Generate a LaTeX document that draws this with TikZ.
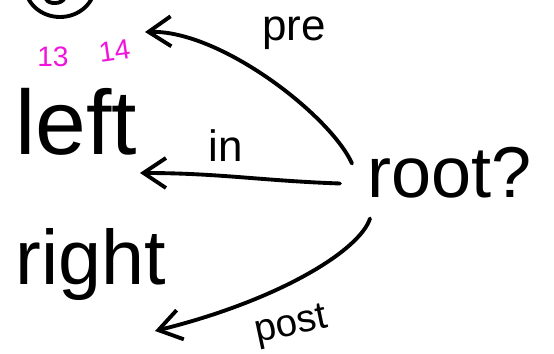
\documentclass[tikz,border=0pt]{standalone}
\usepackage{fontspec}
\setmainfont{Liberation Sans}
\definecolor{inkBlack}{RGB}{0, 0, 0}
\definecolor{inkMagenta}{RGB}{240, 20, 220}
\usetikzlibrary{arrows.meta, positioning, calc}
\tikzset{
  word/.style={font=\fontsize{#1}{#1}\selectfont, text=inkBlack, inner sep=0pt, anchor=base west},
  word/.default=48,
  edgelabel/.style={font=\fontsize{#1}{#1}\selectfont, text=inkBlack, inner sep=0pt, anchor=base west},
  edgelabel/.default=24,
  pagenum/.style={font=\fontsize{16}{18}\selectfont, text=inkMagenta, inner sep=0pt, anchor=base west},
  walk/.style={-{Straight Barb[length=4.5mm, width=6mm]}, line width=2.2pt, line cap=round, line join=round, inkBlack},
  pen/.style={line width=2.2pt, line cap=round, inkBlack},
}

\begin{document}
\begin{tikzpicture}
  \useasboundingbox (0,0) rectangle (11.08,-7.08);

  % circled mark, cut by the top edge
  \draw[pen] (1.2,0.3) ellipse (0.7 and 0.64);
  \draw[pen] (0.92,0.02) to[out=-60, in=180] (1.1,-0.06) to[out=0, in=-110] (1.3,0.06);

  % words
  \node[word=52] (left) at (0.3,-3.1) {left};
  \node[word=44] (right) at (0.3,-5.7) {right};
  \node[word=41] (root) at (7.34,-3.96) {root?};

  % page numbers
  \node[pagenum] (num13) at (0.74,-1.34) {13};
  \node[pagenum, rotate=8] (num14) at (2.0,-1.26) {14};

  % free ends of the walks
  \coordinate (preEnd) at (2.9,-0.64);
  \coordinate (inEnd) at (2.8,-3.46);
  \coordinate (postEnd) at (3.1,-6.62);

  % the three walks
  \draw[walk] ([shift={(-0.3,0.69)}]root.base west) .. controls (6.6,-2.3) and (4.4,-0.6) .. (preEnd);
  \draw[walk] ([shift={(-0.54,0.29)}]root.base west) to[out=178, in=0] (inEnd);
  \draw[walk] ([shift={(0.06,-0.41)}]root.base west) .. controls (7.2,-5.0) and (5.6,-6.0) .. (postEnd);

  % labels
  \node[edgelabel=25] (preLabel) at (5.24,-0.82) {pre};
  \node[edgelabel=25] (inLabel) at (4.16,-3.24) {in};
  \node[edgelabel=22, rotate=12] (postLabel) at (5.14,-6.86) {post};
\end{tikzpicture}
\end{document}
